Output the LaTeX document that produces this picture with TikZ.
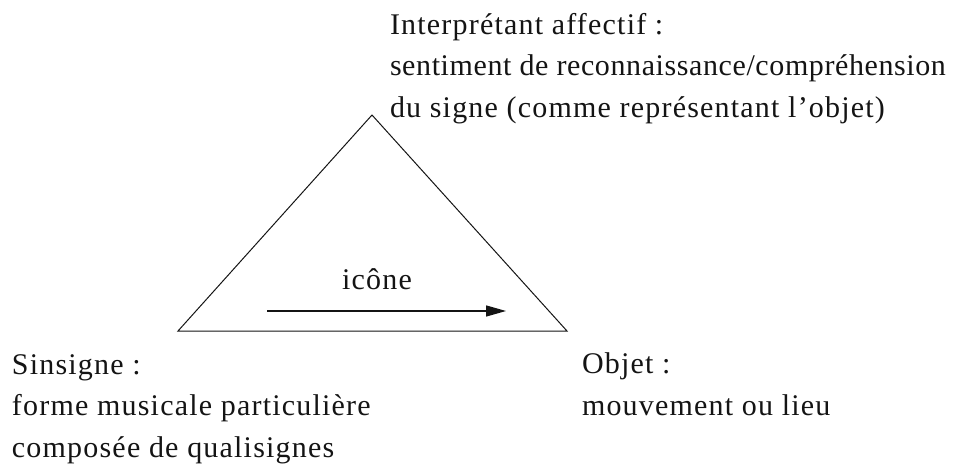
\documentclass[tikz,border=0pt]{standalone}
\usepackage{fontspec}
\setmainfont{Liberation Serif}[LetterSpace=4]
\newfontfamily\tightserif{Liberation Serif}[LetterSpace=2]
\usetikzlibrary{arrows.meta, positioning}
\definecolor{ink}{RGB}{20, 20, 20}

\begin{document}
\begin{tikzpicture}[
    x=1pt, y=-1pt,
    every node/.style={inner sep=0pt, outer sep=0pt, text=ink},
    label/.style={anchor=base west, align=left, font=\fontsize{30}{41.5}\selectfont},
    side/.style={draw=ink, line width=1pt, line join=miter},
    flow/.style={draw=ink, line width=1.3pt, -{Triangle[length=20pt, width=11pt]}},
  ]
  \useasboundingbox (0,0) rectangle (964,464);
  % corners of the triangle
  \coordinate (apex) at (372,115);
  \coordinate (sinsigne) at (178,331);
  \coordinate (objet) at (567,331);
  \draw[side] (apex) -- (objet) -- (sinsigne) -- cycle;
  % arrow inside
  \coordinate (from) at (267,311);
  \coordinate (to) at (506,311);
  \draw[flow] (from) -- (to);
  \node[anchor=base, font=\fontsize{30}{36}\selectfont] (icone) at (377,289) {icône};
  % texts at the corners (base = last line)
  \node[label] (interp) at (390,117)
    {Interprétant affectif :\\{\tightserif sentiment de reconnaissance/compréhension}\\du signe (comme représentant l’objet)};
  \node[label] (sin) at (12,457)
    {Sinsigne :\\forme musicale particulière\\composée de qualisignes};
  \node[label] (obj) at (582,415)
    {Objet :\\mouvement ou lieu};
\end{tikzpicture}
\end{document}
